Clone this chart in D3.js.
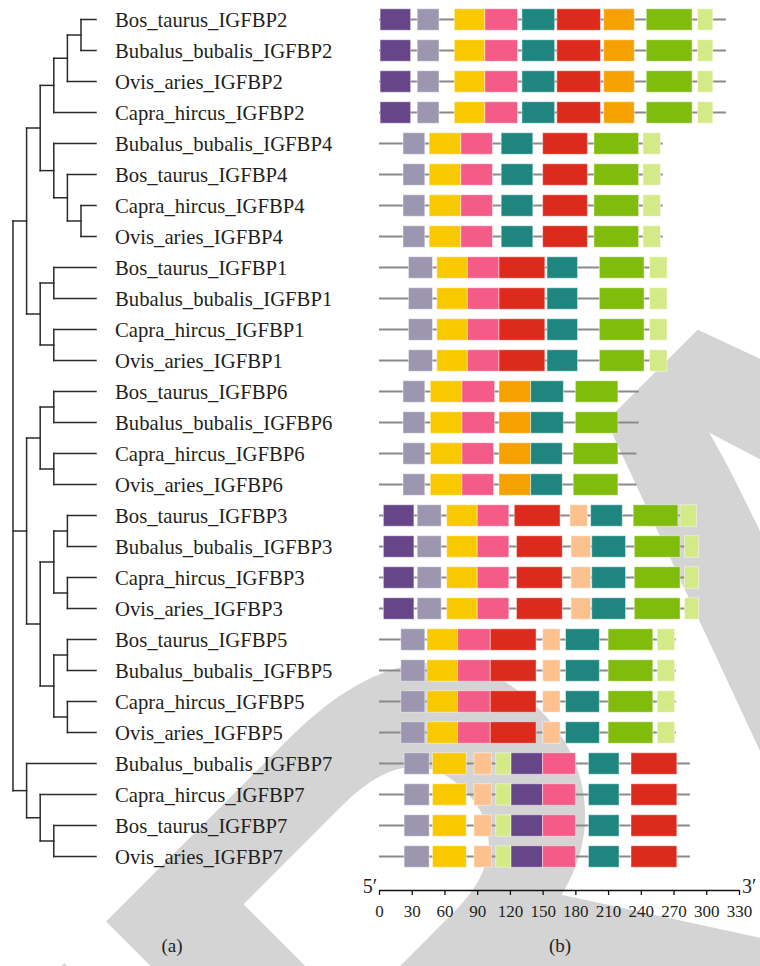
<!DOCTYPE html>
<html>
<head>
<meta charset="utf-8">
<script src="https://cdn.jsdelivr.net/npm/d3@7/dist/d3.min.js"></script>
<style>
  html, body { margin: 0; padding: 0; background: #fff; }
  svg { display: block; }
</style>
</head>
<body>
<svg id="chart" width="760" height="966"></svg>
<script>
// ---------------- DATA ----------------
const newick = "((((((Bos_taurus_IGFBP2,Bubalus_bubalis_IGFBP2),Ovis_aries_IGFBP2),Capra_hircus_IGFBP2),(Bubalus_bubalis_IGFBP4,(Bos_taurus_IGFBP4,(Capra_hircus_IGFBP4,Ovis_aries_IGFBP4)))),((Bos_taurus_IGFBP1,Bubalus_bubalis_IGFBP1),(Capra_hircus_IGFBP1,Ovis_aries_IGFBP1))),(((Bos_taurus_IGFBP6,Bubalus_bubalis_IGFBP6),(Capra_hircus_IGFBP6,Ovis_aries_IGFBP6)),(((Bos_taurus_IGFBP3,Bubalus_bubalis_IGFBP3),(Capra_hircus_IGFBP3,Ovis_aries_IGFBP3)),((Bos_taurus_IGFBP5,Bubalus_bubalis_IGFBP5),(Capra_hircus_IGFBP5,Ovis_aries_IGFBP5)))),(Bubalus_bubalis_IGFBP7,(Capra_hircus_IGFBP7,(Bos_taurus_IGFBP7,Ovis_aries_IGFBP7))));";

const genes = [
  "Bos_taurus_IGFBP2","Bubalus_bubalis_IGFBP2","Ovis_aries_IGFBP2","Capra_hircus_IGFBP2",
  "Bubalus_bubalis_IGFBP4","Bos_taurus_IGFBP4","Capra_hircus_IGFBP4","Ovis_aries_IGFBP4",
  "Bos_taurus_IGFBP1","Bubalus_bubalis_IGFBP1","Capra_hircus_IGFBP1","Ovis_aries_IGFBP1",
  "Bos_taurus_IGFBP6","Bubalus_bubalis_IGFBP6","Capra_hircus_IGFBP6","Ovis_aries_IGFBP6",
  "Bos_taurus_IGFBP3","Bubalus_bubalis_IGFBP3","Capra_hircus_IGFBP3","Ovis_aries_IGFBP3",
  "Bos_taurus_IGFBP5","Bubalus_bubalis_IGFBP5","Capra_hircus_IGFBP5","Ovis_aries_IGFBP5",
  "Bubalus_bubalis_IGFBP7","Capra_hircus_IGFBP7","Bos_taurus_IGFBP7","Ovis_aries_IGFBP7"
];

const geneLengths = [
  318, 318, 318, 318,
  260, 260, 260, 260,
  260, 260, 260, 260,
  238, 238, 236, 236,
  286, 288, 288, 288,
  272, 272, 272, 272,
  285, 285, 285, 285
];

const motifNames = ["m1","m2","m3","m4","m5","m6","m7","m8","m9","m10"];
const motifColors = ["#664589","#9d96b0","#f9c900","#f45b86","#1e867f","#dc2a1d","#f6a100","#80bc0b","#d3ea86","#fdc18f"];

// [motif, start, end]
const igfbp2Motifs = [["m1",1,29],["m2",35,55],["m3",69,97],["m4",97,127],["m5",131,161],["m6",163,203],["m7",206,234],["m8",245,287],["m9",292,306]];
const igfbp4Motifs = [["m2",22,42],["m3",46,75],["m4",75,104],["m5",112,141],["m6",150,191],["m8",197,238],["m9",242,258]];
const igfbp1Motifs = [["m2",27,49],["m3",53,81],["m4",81,110],["m6",110,152],["m5",154,182],["m8",202,243],["m9",248,264]];
const igfbp6aMotifs = [["m2",22,42],["m3",47,76],["m4",76,106],["m7",110,139],["m5",139,169],["m8",180,219]];
const igfbp6bMotifs = [["m2",22,42],["m3",47,76],["m4",76,105],["m7",110,139],["m5",139,168],["m8",178,219]];
const igfbp3aMotifs = [["m1",4,32],["m2",35,57],["m3",62,90],["m4",90,119],["m6",124,166],["m10",175,191],["m5",194,223],["m8",233,274],["m9",276,291]];
const igfbp3bMotifs = [["m1",4,32],["m2",35,57],["m3",62,90],["m4",90,119],["m6",126,168],["m10",176,194],["m5",195,226],["m8",234,276],["m9",280,293]];
const igfbp5Motifs = [["m2",20,42],["m3",44,72],["m4",72,102],["m6",102,144],["m10",150,166],["m5",171,202],["m8",210,251],["m9",255,271]];
const igfbp7Motifs = [["m2",23,46],["m3",49,80],["m10",87,103],["m9",107,121],["m1",121,150],["m4",150,180],["m5",192,220],["m6",231,273]];

const geneMotifs = [
  igfbp2Motifs, igfbp2Motifs, igfbp2Motifs, igfbp2Motifs,
  igfbp4Motifs, igfbp4Motifs, igfbp4Motifs, igfbp4Motifs,
  igfbp1Motifs, igfbp1Motifs, igfbp1Motifs, igfbp1Motifs,
  igfbp6aMotifs, igfbp6aMotifs, igfbp6bMotifs, igfbp6bMotifs,
  igfbp3aMotifs, igfbp3bMotifs, igfbp3bMotifs, igfbp3bMotifs,
  igfbp5Motifs, igfbp5Motifs, igfbp5Motifs, igfbp5Motifs,
  igfbp7Motifs, igfbp7Motifs, igfbp7Motifs, igfbp7Motifs
];

const axisTicks = [0,30,60,90,120,150,180,210,240,270,300,330];
const panelLabels = ["(a)","(b)"];
const watermarkText = "RETRACTED";

// ---------------- HELPERS ----------------
function parseNewick(s) {
  let i = 0;
  function node() {
    if (s[i] === "(") {
      i++;
      const children = [node()];
      while (s[i] === ",") { i++; children.push(node()); }
      i++; // ')'
      return { children };
    }
    let name = "";
    while (i < s.length && !",();".includes(s[i])) name += s[i++];
    return { name };
  }
  return node();
}

// ---------------- DRAW ----------------
const svg = d3.select("#chart");
const serif = "'Liberation Serif', 'DejaVu Serif', serif";
const textColor = "#231f20";

// watermark (behind everything); the 4th letter "R" lands near the bottom centre
svg.append("text")
  .attr("transform", "translate(-635,2402) rotate(-45)")
  .attr("font-family", "'Liberation Sans', Arial, sans-serif")
  .attr("font-weight", "bold")
  .attr("font-size", 760)
  .attr("fill", "#d4d4d4")
  .text(watermarkText);

const y = d3.scaleBand().domain(genes).range([4, 4 + genes.length * 31]);
const yc = g => y(g) + y.bandwidth() / 2;
const x = d3.scaleLinear().domain([0, 330]).range([379, 739]);
const depthX = d3.scaleLinear().domain([0, 5]).range([13, 81]);
const leafEnd = 96;

// ----- tree -----
const root = d3.hierarchy(parseNewick(newick));
root.eachAfter(n => {
  if (!n.children) n.yy = yc(n.data.name);
  else n.yy = (n.children[0].yy + n.children[n.children.length - 1].yy) / 2;
  n.xx = n.children ? depthX(n.depth) : leafEnd;
});
const treeG = svg.append("g")
  .attr("fill", "none").attr("stroke", "#2b2b2b").attr("stroke-width", 1.5)
  .attr("stroke-linecap", "square");
root.descendants().filter(n => n.children).forEach(n => {
  treeG.append("line")
    .attr("x1", n.xx).attr("x2", n.xx)
    .attr("y1", n.children[0].yy).attr("y2", n.children[n.children.length - 1].yy);
  n.children.forEach(c => {
    treeG.append("line")
      .attr("x1", n.xx).attr("x2", c.xx)
      .attr("y1", c.yy).attr("y2", c.yy);
  });
});

// labels
svg.append("g").selectAll("text").data(genes).join("text")
  .attr("x", 115).attr("y", d => yc(d) + 7)
  .attr("font-family", serif).attr("font-size", 20.7).attr("fill", textColor)
  .text(d => d);

// ----- motifs -----
const color = d3.scaleOrdinal().domain(motifNames).range(motifColors);
const rows = svg.append("g").selectAll("g").data(genes).join("g")
  .attr("transform", d => `translate(0,${yc(d)})`);
rows.append("line")
  .attr("x1", x(0)).attr("x2", (d, i) => x(geneLengths[i]))
  .attr("stroke", "#8a8a8a").attr("stroke-width", 2);
rows.each(function (d, i) {
  d3.select(this).selectAll("rect").data(geneMotifs[i]).join("rect")
    .attr("x", m => x(m[1])).attr("width", m => x(m[2]) - x(m[1]))
    .attr("y", -10.75).attr("height", 21.5)
    .attr("fill", m => color(m[0]))
    .attr("stroke", "#ffffff").attr("stroke-opacity", 0.45).attr("stroke-width", 1);
});

// ----- axis -----
const axisY = 890;
const axisG = svg.append("g").attr("transform", `translate(0,${axisY})`)
  .call(d3.axisBottom(x).tickValues(axisTicks).tickSize(5).tickSizeOuter(0).tickPadding(10));
axisG.select(".domain").attr("stroke", "#111").attr("stroke-width", 1.3);
axisG.selectAll(".tick line").attr("stroke", "#111").attr("stroke-width", 1.3);
axisG.selectAll(".tick text").attr("font-family", serif).attr("font-size", 17).attr("fill", textColor);

svg.append("text").attr("x", 377).attr("y", 893).attr("text-anchor", "end")
  .attr("font-family", serif).attr("font-size", 20).attr("fill", textColor).text("5\u2032");
svg.append("text").attr("x", 742).attr("y", 893)
  .attr("font-family", serif).attr("font-size", 20).attr("fill", textColor).text("3\u2032");

// panel labels
svg.append("text").attr("x", 172).attr("y", 952).attr("text-anchor", "middle")
  .attr("font-family", serif).attr("font-size", 19).attr("fill", textColor).text(panelLabels[0]);
svg.append("text").attr("x", 560).attr("y", 952).attr("text-anchor", "middle")
  .attr("font-family", serif).attr("font-size", 19).attr("fill", textColor).text(panelLabels[1]);
</script>
</body>
</html>
